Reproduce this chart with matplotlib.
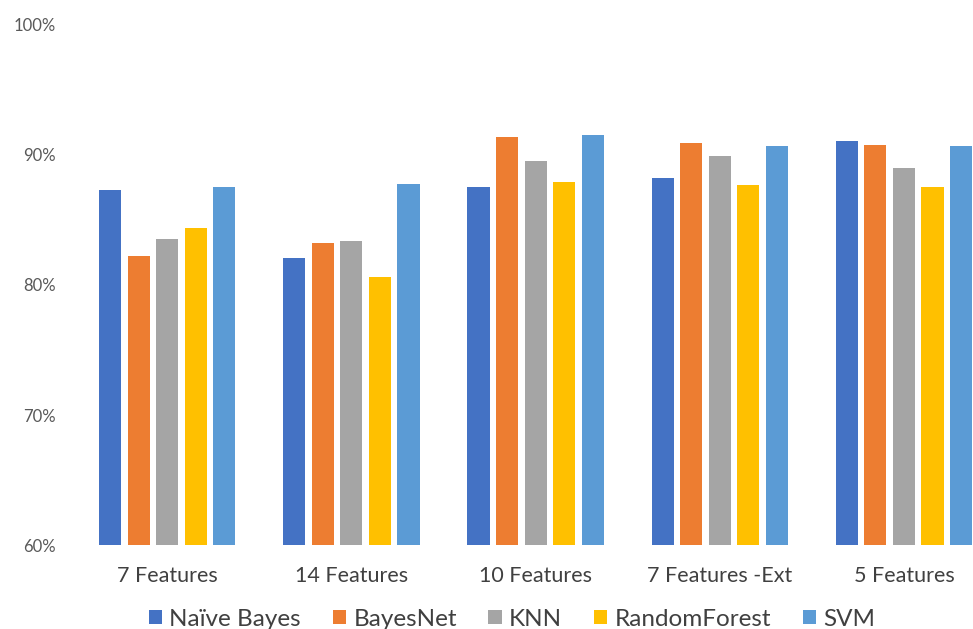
import matplotlib.pyplot as plt
import numpy as np
from matplotlib.ticker import FuncFormatter

plt.rcParams["font.family"] = ["Lato", "DejaVu Sans"]

feature_sets = ["7 Features", "14 Features", "10 Features", "7 Features -Ext", "5 Features"]
naive_bayes = [87.3, 82.1, 87.5, 88.2, 91.1]
bayes_net = [82.2, 83.2, 91.4, 90.9, 90.8]
knn = [83.5, 83.4, 89.5, 89.9, 89.0]
random_forest = [84.4, 80.6, 87.9, 87.7, 87.5]
svm = [87.5, 87.8, 91.5, 90.7, 90.7]

series = [
    ("Naïve Bayes", naive_bayes, "#4472C4"),
    ("BayesNet", bayes_net, "#ED7D31"),
    ("KNN", knn, "#A5A5A5"),
    ("RandomForest", random_forest, "#FFC000"),
    ("SVM", svm, "#5B9BD5"),
]

fig = plt.figure(figsize=(9.73, 6.29), dpi=100)
# axes run past the right edge so the last group is cut off
ax = fig.add_axes([0.0772, 0.1335, 0.9465, 0.8268])

x = np.arange(len(feature_sets))
pitch = 0.155
width = 0.12
for i, (name, vals, color) in enumerate(series):
    ax.bar(x + (i - 2) * pitch, vals, width=width, color=color, label=name)

ax.set_xlim(-0.5, len(feature_sets) - 0.5)
ax.set_ylim(60, 100)
ax.set_yticks([60, 70, 80, 90, 100])
ax.yaxis.set_major_formatter(FuncFormatter(lambda v, _: f"{v:.0f}%"))
ax.set_xticks(x)
ax.set_xticklabels(feature_sets)

for s in ax.spines.values():
    s.set_visible(False)
ax.tick_params(axis="y", length=0, pad=14, labelsize=12, labelcolor="#595959")
ax.tick_params(axis="x", length=0, pad=15, labelsize=15.5, labelcolor="#404040")

fig.legend(loc="center", bbox_to_anchor=(512 / 973, 1 - 619 / 629), ncol=5,
           frameon=False, fontsize=17.5, handlelength=0.55, handleheight=0.55,
           handletextpad=0.3, columnspacing=1.3, labelcolor="#404040")

fig.savefig("out.png", dpi=100)
